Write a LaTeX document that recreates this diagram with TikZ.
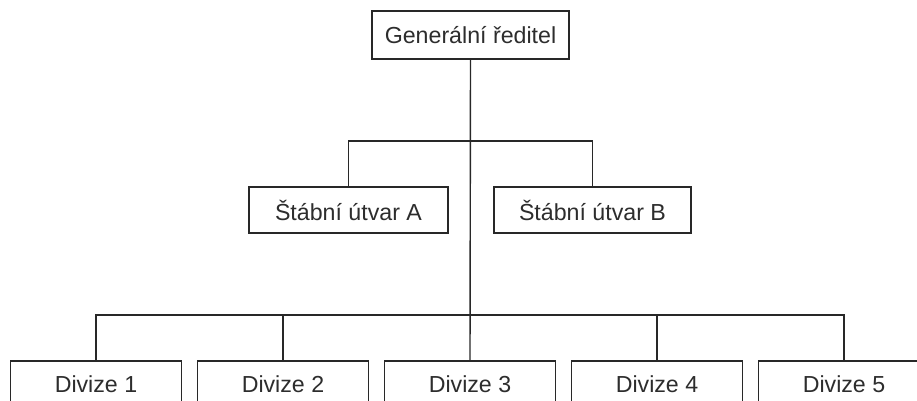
\documentclass[tikz,border=0pt]{standalone}
\usepackage{fontspec}
\setmainfont{Liberation Sans}
\usepackage{tikz}
\usetikzlibrary{positioning,calc}
\usepackage{xcolor}
\definecolor{orgline}{RGB}{40,40,40}
\definecolor{orgtext}{RGB}{45,45,45}

\begin{document}
\begin{tikzpicture}[
    x=0.02cm, y=-0.02cm,
    box/.style={rectangle, draw=orgline, line width=0.8pt, fill=white, minimum height=46*0.02cm, inner sep=0pt, align=center, text=orgtext, font=\fontsize{13.2}{16}\selectfont},
    link/.style={draw=orgline, line width=0.8pt}
]
\useasboundingbox (0,0) rectangle (917,400);
\clip (0,0) rectangle (917,400);

\node[box, minimum width=197*0.02cm, minimum height=48*0.02cm] (gr) at (470.5,35) {Generální ředitel};
\node[box, minimum width=199*0.02cm] (sa) at (348.5,210) {Štábní útvar A};
\node[box, minimum width=197*0.02cm] (sb) at (592.5,210) {Štábní útvar B};
\foreach \i in {1,...,5}
  \node[box, minimum width=171*0.02cm] (d\i) at ({96+187*(\i-1)},384) {Divize \i};

\coordinate (sbus) at (470,141);
\coordinate (dbus) at (470,315);

\draw[link] (gr.south) -- (d3.north);
\draw[link] (sa.north) |- (sbus) -| (sb.north);
\draw[link] (d1.north) |- (dbus) -| (d5.north);
\draw[link] (d2.north) -- (d2.north |- dbus);
\draw[link] (d4.north) -- (d4.north |- dbus);
\end{tikzpicture}
\end{document}
